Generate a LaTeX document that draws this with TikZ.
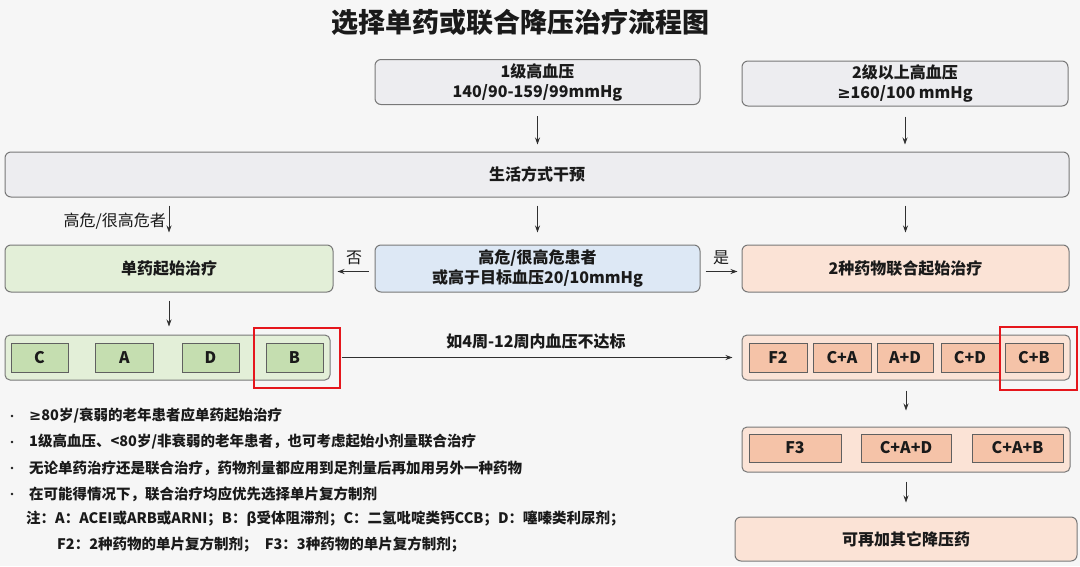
\documentclass[tikz,border=0pt]{standalone}
\usepackage{fontspec}
\setmainfont{Noto Sans CJK SC}
\newfontfamily\symf{DejaVu Sans}
\usetikzlibrary{arrows.meta}
\definecolor{bg}{HTML}{F6F6F6}
\definecolor{graybox}{HTML}{EDEDF0}
\definecolor{grayline}{HTML}{787878}
\definecolor{greenbox}{HTML}{E3EFD8}
\definecolor{greenin}{HTML}{C5DEB0}
\definecolor{bluebox}{HTML}{DDE8F5}
\definecolor{orangebox}{HTML}{FBE3D6}
\definecolor{orangein}{HTML}{F5C3A8}
\definecolor{redline}{HTML}{E5161C}
\definecolor{txt}{HTML}{1A1A1A}
\definecolor{arrcol}{HTML}{303030}
\newcommand{\mygeq}{{\symf ≥}}
\begin{document}
\begin{tikzpicture}[x=1pt,y=-1pt,
  box/.style={draw=grayline, line width=1pt, rounded corners=6pt, text=txt,
    font=\bfseries\fontsize{16}{20}\selectfont, align=center, inner sep=0pt},
  cont/.style={draw=grayline, line width=1pt, rounded corners=5pt, inner sep=0pt},
  inbox/.style={draw=grayline!80!black, line width=1pt, inner sep=0pt, text=txt,
    font=\bfseries\fontsize{16}{18}\selectfont},
  arr/.style={draw=arrcol, line width=0.8pt, -{Stealth[length=7pt,width=5pt]}},
  bullet/.style={anchor=west, inner sep=0pt, text=txt, font=\bfseries\fontsize{14.5}{17}\selectfont},
  redbox/.style={draw=redline, line width=2pt},
  lab/.style={text=txt, font=\fontsize{16}{18}\selectfont, inner sep=0pt}
]
\useasboundingbox (0,0) rectangle (1080,566);
\fill[bg] (0,0) rectangle (1080,566);

% title
\node[text=txt, font=\bfseries\fontsize{27}{30}\selectfont, inner sep=0pt] (title) at (520,22) {选择单药或联合降压治疗流程图};

% top boxes
\node[box, fill=graybox, minimum width=325pt, minimum height=45pt] (b1) at (537.5,82) {1级高血压\\140/90-159/99mmHg};
\node[box, fill=graybox, minimum width=326pt, minimum height=45pt] (b2) at (905,83.5) {2级以上高血压\\\mygeq160/100 mmHg};
\node[box, fill=graybox, minimum width=1064pt, minimum height=45pt] (life) at (537,174.5) {生活方式干预};

% second row
\node[box, fill=greenbox, minimum width=328pt, minimum height=47pt] (green) at (169,268.5) {单药起始治疗};
\node[box, fill=bluebox, minimum width=325pt, minimum height=47pt] (blue) at (537.5,268.5) {高危/很高危患者\\或高于目标血压20/10mmHg};
\node[box, fill=orangebox, minimum width=327pt, minimum height=47pt] (orange) at (905.5,268.5) {2种药物联合起始治疗};

% green container
\node[cont, fill=greenbox, minimum width=325pt, minimum height=45pt] (gcont) at (167.5,357.5) {};
\node[inbox, fill=greenin, minimum width=57pt, minimum height=29pt] (gC) at (39.5,357.5) {C};
\node[inbox, fill=greenin, minimum width=58pt, minimum height=29pt] (gA) at (124.5,357.5) {A};
\node[inbox, fill=greenin, minimum width=57pt, minimum height=29pt] (gD) at (210.5,357.5) {D};
\node[inbox, fill=greenin, minimum width=57pt, minimum height=29pt] (gB) at (294.5,357.5) {B};

% orange container row 1
\node[cont, fill=orangebox, minimum width=328pt, minimum height=45pt] (ocont) at (906,357.5) {};
\node[inbox, fill=orangein, minimum width=58pt, minimum height=29pt] (oF2) at (778,357.5) {F2};
\node[inbox, fill=orangein, minimum width=58pt, minimum height=29pt] (oCA) at (842,357.5) {C+A};
\node[inbox, fill=orangein, minimum width=56pt, minimum height=29pt] (oAD) at (905,357.5) {A+D};
\node[inbox, fill=orangein, minimum width=58pt, minimum height=29pt] (oCD) at (970,357.5) {C+D};
\node[inbox, fill=orangein, minimum width=58pt, minimum height=29pt] (oCB) at (1034,357.5) {C+B};

% orange container row 2
\node[cont, fill=orangebox, minimum width=328pt, minimum height=45pt] (o3cont) at (906,449.5) {};
\node[inbox, fill=orangein, minimum width=92pt, minimum height=28pt] (oF3) at (795,448) {F3};
\node[inbox, fill=orangein, minimum width=90pt, minimum height=28pt] (oCAD) at (906,448) {C+A+D};
\node[inbox, fill=orangein, minimum width=91pt, minimum height=28pt] (oCAB) at (1017.5,448) {C+A+B};

% final box
\node[box, fill=orangebox, minimum width=342pt, minimum height=44pt] (final) at (906,539) {可再加其它降压药};

% red highlight boxes
\draw[redbox] (254,328) rectangle (340,388);
\draw[redbox] (1000,327) rectangle (1077,390);

% arrows
\draw[arr, shorten <=11pt, shorten >=7pt] (b1.south) -- (b1.south |- life.north);
\draw[arr, shorten <=10pt, shorten >=7pt] (b2.south) -- (b2.south |- life.north);
\draw[arr, shorten <=8pt, shorten >=12pt] (life.south -| green.north) -- (green.north);
\draw[arr, shorten <=8pt, shorten >=12pt] (life.south -| blue.north) -- (blue.north);
\draw[arr, shorten <=8pt, shorten >=12pt] (life.south -| orange.north) -- (orange.north);
\node[lab, anchor=east] (hrisk) at (166,221) {高危/很高危者};
\draw[arr, shorten <=6pt, shorten >=4pt] ([yshift=-3pt]blue.west) -- ([yshift=-3pt]green.east)
  node[lab, midway, above=6pt] {否};
\draw[arr, shorten <=5pt, shorten >=4pt] ([yshift=-3pt]blue.east) -- ([yshift=-3pt]orange.west)
  node[lab, midway, above=6pt] {是};
\draw[arr, shorten <=8pt, shorten >=8pt] (green.south) -- (green.south |- gcont.north);
\draw[arr, shorten <=11pt, shorten >=9pt] (gcont.east) -- (ocont.west)
  node[lab, midway, above=8pt, font=\bfseries\fontsize{16}{18}\selectfont] {如4周-12周内血压不达标};
\draw[arr, shorten <=10pt, shorten >=16pt] (ocont.south) -- (o3cont.north);
\draw[arr, shorten <=9pt, shorten >=14pt] (o3cont.south) -- (final.north);

% bullet notes
\foreach \yy in {416,442,468,494} {\fill[txt] (12,\yy) circle (1.4pt);}
\node[bullet] (t1) at (29,416) {\mygeq80岁/衰弱的老年患者应单药起始治疗};
\node[bullet] (t2) at (29,442) {1级高血压、<80岁/非衰弱的老年患者，也可考虑起始小剂量联合治疗};
\node[bullet] (t3) at (29,468) {无论单药治疗还是联合治疗，药物剂量都应用到足剂量后再加用另外一种药物};
\node[bullet] (t4) at (29,494) {在可能得情况下，联合治疗均应优先选择单片复方制剂};
\node[bullet] (t5) at (26,519) {注：A：ACEI或ARB或ARNI；B：β受体阻滞剂；C：二氢吡啶类钙CCB；D：噻嗪类利尿剂；};
\node[bullet] (t6) at (57,545) {F2：2种药物的单片复方制剂；\hspace{0.5em}F3：3种药物的单片复方制剂；};
\end{tikzpicture}
\end{document}
